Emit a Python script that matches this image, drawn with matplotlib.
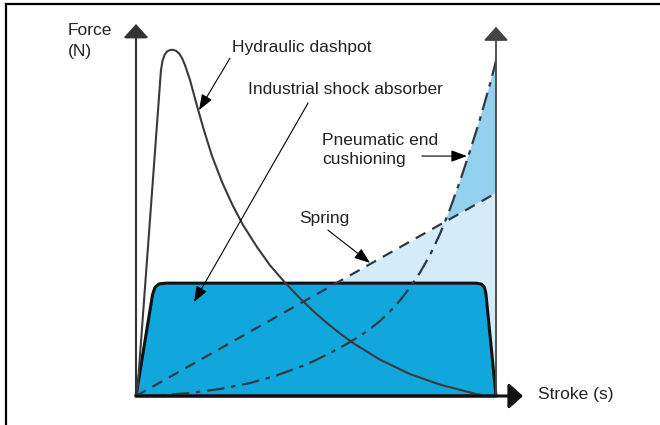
import numpy as np
import matplotlib
matplotlib.use('Agg')
import matplotlib.pyplot as plt
from matplotlib.lines import Line2D
from matplotlib.patches import Polygon

plt.rcParams['font.family'] = ['Liberation Sans', 'DejaVu Sans']

# stroke in % of full stroke, force in % of the scale (schematic)
dashpot_x = [0.28, 6.94, 7.36, 7.92, 8.61, 9.44, 10.28, 11.11, 11.94, 12.78, 13.61, 15.00,
             16.94, 18.89, 21.11, 23.89, 26.67, 29.72, 33.61, 37.22, 41.39, 45.56, 49.72,
             53.06, 56.67, 60.28, 67.78, 76.11, 84.44, 90.00, 94.44, 97.78]
dashpot_y = [0.0, 91.57, 94.10, 95.79, 96.77, 97.19, 97.25, 96.97, 96.26, 94.94, 92.95, 88.76,
             81.49, 74.61, 67.42, 60.11, 53.93, 48.03, 41.85, 36.71, 31.85, 27.42, 23.40,
             20.48, 17.56, 14.89, 10.20, 6.15, 3.20, 1.74, 0.56, 0.0]

shock_x = [0.0, 4.6, 5.3, 6.5, 8.4, 94.5, 96.0, 96.8, 97.2, 100.0]
shock_y = [0.0, 28.5, 30.6, 31.5, 31.7, 31.7, 31.4, 30.5, 28.7, 0.0]

spring_x = [0.0, 100.0]
spring_y = [0.0, 57.0]

pneu_x = [0.0, 6.67, 15.0, 23.33, 31.67, 38.61, 45.56, 49.72, 53.89, 58.06, 62.22, 65.0,
          67.78, 70.56, 73.33, 76.11, 78.89, 81.67, 84.44, 87.22, 90.0, 92.78, 95.56,
          98.33, 100.0]
pneu_y = [0.0, 0.22, 0.84, 1.97, 3.65, 5.62, 8.15, 9.97, 12.08, 14.33, 16.85, 18.82,
          21.07, 23.74, 26.83, 30.48, 34.69, 39.61, 45.51, 52.53, 60.39, 68.82, 77.81,
          87.64, 94.10]

dark_blue = '#12a7dc'
light_blue = '#d4ebf8'
mid_blue = '#93d1ef'
ink = '#222222'

fig = plt.figure(figsize=(6.6, 4.25), dpi=100)
ax = fig.add_axes([136 / 660, 29 / 425, 360 / 660, 356 / 425])
ax.set_xlim(0, 100)
ax.set_ylim(0, 100)
ax.axis('off')

# frame (top + left only)
fig.add_artist(Line2D([6.5 / 660, 1.0], [1 - 3.5 / 425, 1 - 3.5 / 425], color='black', lw=1.6))
fig.add_artist(Line2D([6.5 / 660, 6.5 / 660], [0.0, 1 - 3.5 / 425], color='black', lw=1.6))

# fills
ax.fill_between(spring_x, 0, spring_y, color=light_blue, lw=0, zorder=1)
sp_at = np.interp(pneu_x, spring_x, spring_y)
ax.fill_between(pneu_x, sp_at, pneu_y, where=np.array(pneu_y) >= sp_at, interpolate=True,
                color=mid_blue, lw=0, zorder=1.5)
ax.add_patch(Polygon(np.column_stack([shock_x, shock_y]), closed=True, facecolor=dark_blue,
                     edgecolor='#111111', lw=2.2, joinstyle='round', zorder=2, clip_on=False))

# curves
ax.plot(spring_x, spring_y, color='#2d3a44', lw=1.6, dashes=(5, 3.5), zorder=3)
ax.plot(pneu_x, pneu_y, color='#2d3a44', lw=1.6, dashes=(8, 3, 2, 3), zorder=3)
ax.plot(dashpot_x, dashpot_y, color='#3a3a3a', lw=1.5, zorder=4, clip_on=False,
        solid_joinstyle='round')

# axes and end-of-stroke line
head = '-|>,head_length=0.5,head_width=0.45'
axis_lines = [((0, 104.5), '#333333', 1.5),
              ((100, 103.7), '#444444', 1.3),
              ((107.5, 0), '#111111', 2.2)]
for tip, col, w in axis_lines:
    ax.annotate('', xy=tip, xytext=(0, 0) if tip[0] != 100 else (100, 0),
                annotation_clip=False,
                arrowprops=dict(arrowstyle=head, mutation_scale=17, color=col, lw=w,
                                shrinkA=0, shrinkB=0), zorder=5)

# labels
fs = 12.5
ax.text(-18.9, 99.7, 'Force\n(N)', fontsize=fs, color=ink, ha='left', va='center',
        linespacing=1.45)
ax.text(111.7, 0.3, 'Stroke (s)', fontsize=fs, color=ink, ha='left', va='center')
ax.text(26.7, 97.8, 'Hydraulic dashpot', fontsize=fs, color=ink, ha='left', va='center')
ax.text(31.1, 86.0, 'Industrial shock absorber', fontsize=fs, color=ink, ha='left', va='center')
ax.text(51.7, 69.2, 'Pneumatic end\ncushioning', fontsize=fs, color=ink, ha='left',
        va='center', linespacing=1.35)
ax.text(45.3, 50.0, 'Spring', fontsize=fs, color=ink, ha='left', va='center')

pointer = '-|>,head_length=0.8,head_width=0.3'
arrows = [((17.5, 80.3), (26.1, 94.9)),
          ((16.1, 26.4), (47.8, 82.3)),
          ((91.9, 67.4), (79.4, 67.4)),
          ((65.0, 37.4), (53.3, 46.6))]
for tip, start in arrows:
    ax.annotate('', xy=tip, xytext=start, annotation_clip=False,
                arrowprops=dict(arrowstyle=pointer, mutation_scale=12, color='black', lw=0.8,
                                shrinkA=0, shrinkB=0), zorder=6)

fig.savefig('out.png', dpi=100)
